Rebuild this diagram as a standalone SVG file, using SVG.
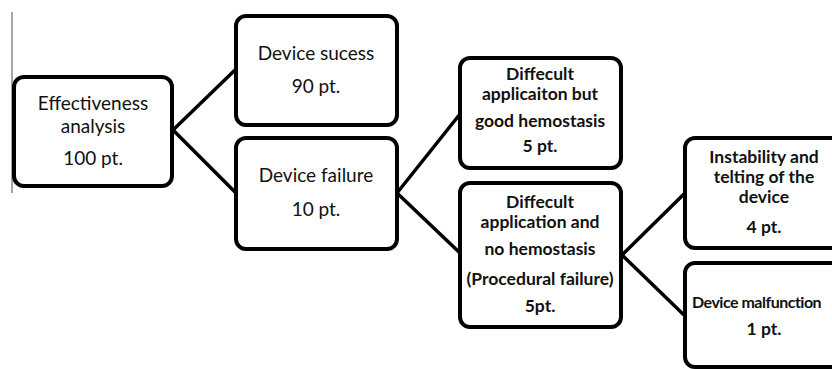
<svg xmlns="http://www.w3.org/2000/svg" width="832" height="369" viewBox="0 0 832 369">
  <style>
    .box { fill: #ffffff; stroke: #000000; stroke-width: 4; }
    .link { stroke: #000000; stroke-width: 3.5; fill: none; stroke-linecap: round; }
    .t { font-family: Lato, "Open Sans", "Liberation Sans", sans-serif; font-size: 19px; fill: #111111; text-anchor: middle; }
    .b { font-weight: bold; font-size: 17.5px; }
  </style>
  <rect width="832" height="369" fill="#ffffff"/>
  <!-- thin vertical rule at the left margin -->
  <line x1="12" y1="12" x2="12" y2="193" stroke="#8a8a8a" stroke-width="1.5"/>

  <g id="connectors">
    <line class="link" x1="173" y1="130" x2="235" y2="70"/>
    <line class="link" x1="173" y1="130" x2="235" y2="192"/>
    <line class="link" x1="397" y1="193" x2="460" y2="114"/>
    <line class="link" x1="397" y1="193" x2="460" y2="253"/>
    <line class="link" x1="622" y1="255" x2="684" y2="194"/>
    <line class="link" x1="622" y1="255" x2="684" y2="315"/>
  </g>

  <g id="effectiveness">
    <rect class="box" x="14" y="77" width="158" height="109" rx="10"/>
    <text class="t" x="93" y="110">Effectiveness</text>
    <text class="t" x="93" y="133">analysis</text>
    <text class="t" x="93" y="165">100 pt.</text>
  </g>

  <g id="device-success">
    <rect class="box" x="236" y="16" width="161" height="109" rx="10"/>
    <text class="t" x="316" y="60">Device sucess</text>
    <text class="t" x="316" y="93">90 pt.</text>
  </g>

  <g id="device-failure">
    <rect class="box" x="236" y="138" width="161" height="111" rx="10"/>
    <text class="t" x="316" y="182">Device failure</text>
    <text class="t" x="316" y="216">10 pt.</text>
  </g>

  <g id="difficult-good">
    <rect class="box" x="460" y="58" width="161" height="110" rx="10"/>
    <text class="t b" x="540" y="80">Diffecult</text>
    <text class="t b" x="540" y="100">applicaiton but</text>
    <text class="t b" x="540" y="127">good hemostasis</text>
    <text class="t b" x="540" y="152">5 pt.</text>
  </g>

  <g id="procedural-failure">
    <rect class="box" x="460" y="183" width="161" height="144" rx="10"/>
    <text class="t b" x="540" y="208">Diffecult</text>
    <text class="t b" x="540" y="228">application and</text>
    <text class="t b" x="540" y="255">no hemostasis</text>
    <text class="t b" x="540" y="285">(Procedural failure)</text>
    <text class="t b" x="540" y="312">5pt.</text>
  </g>

  <g id="instability">
    <rect class="box" x="685" y="138" width="162" height="110" rx="10"/>
    <text class="t b" x="764" y="163">Instability and</text>
    <text class="t b" x="764" y="183">telting of the</text>
    <text class="t b" x="764" y="203">device</text>
    <text class="t b" x="764" y="233">4 pt.</text>
  </g>

  <g id="malfunction">
    <rect class="box" x="685" y="263" width="162" height="104" rx="10"/>
    <text class="t b" x="692" y="308" style="text-anchor:start; font-size:16px; letter-spacing:-0.5px">Device malfunction</text>
    <text class="t b" x="764" y="335">1 pt.</text>
  </g>
</svg>
